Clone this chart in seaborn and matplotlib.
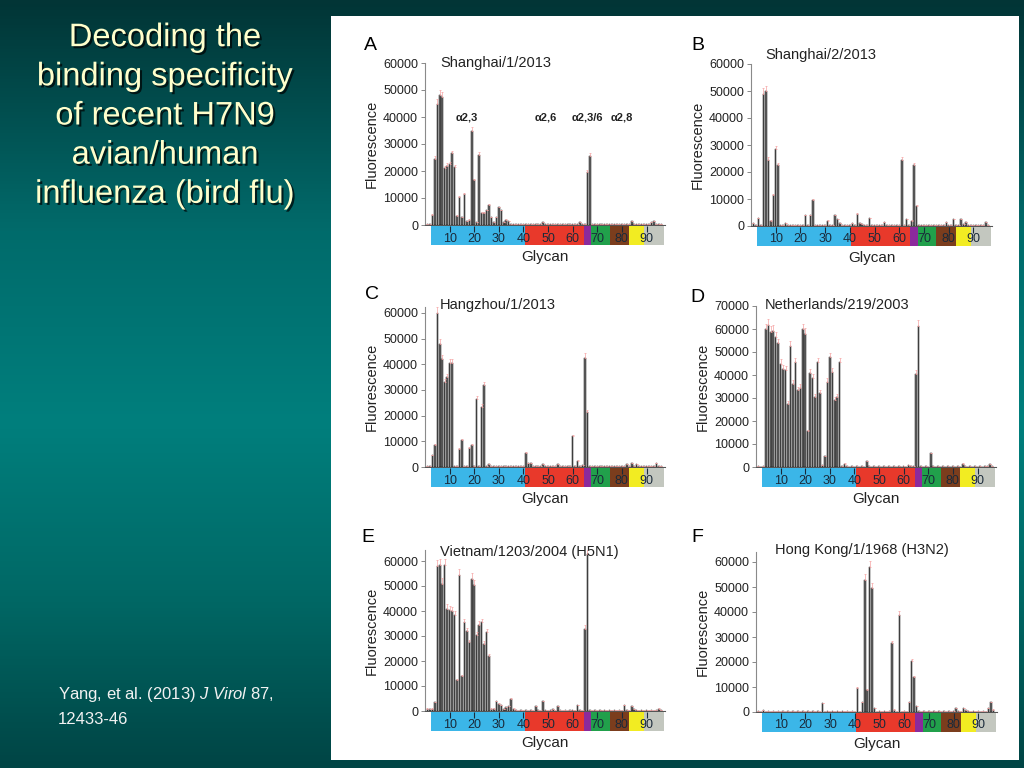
import numpy as np
import pandas as pd
import matplotlib
matplotlib.use('Agg')
import matplotlib.pyplot as plt
import matplotlib.patheffects as pe
from matplotlib.colors import LinearSegmentedColormap
from matplotlib.patches import Rectangle
import seaborn as sns

# slide size in pixels
W, H = 1024, 768

# ---- data ----
GLYCAN = np.arange(1, 97)

SHANGHAI_1 = [300, 200, 3800, 24500, 45000, 48000, 47500, 21000, 22000, 22500, 26500, 21500,
              3500, 10500, 3000, 11500, 1500, 2000, 35000, 16500, 1000, 26000, 4500, 4500,
              5500, 7500, 3000, 1000, 3000, 6500, 5500, 1000, 2000, 1500, 400, 200,
              300, 200, 300, 200, 300, 200, 300, 200, 300, 200, 300, 1000,
              200, 300, 200, 300, 200, 300, 200, 300, 200, 300, 200, 300,
              200, 300, 1200, 300, 200, 19500, 25500, 300, 200, 300, 200, 300,
              200, 300, 200, 300, 200, 300, 200, 300, 200, 300, 200, 1300,
              300, 200, 300, 200, 300, 200, 300, 1000, 1500, 300, 200, 300]

SHANGHAI_2 = [1000, 500, 3000, 300, 49000, 50000, 24500, 2000, 11500, 28500, 22500, 300,
              200, 1000, 300, 200, 300, 200, 300, 200, 300, 4000, 300, 4000,
              9500, 300, 200, 300, 200, 300, 2000, 300, 500, 4000, 2500, 1200,
              300, 200, 300, 200, 1200, 300, 4500, 1200, 800, 500, 300, 3000,
              200, 300, 200, 300, 200, 1500, 200, 300, 200, 300, 200, 300,
              24500, 300, 2500, 300, 2000, 22500, 7500, 300, 200, 300, 200, 300,
              200, 300, 200, 300, 200, 300, 1500, 300, 300, 2500, 300, 500,
              2500, 800, 1500, 300, 200, 300, 200, 300, 200, 300, 1500, 300]

HANGZHOU_1 = [300, 200, 4500, 8500, 60000, 48000, 42000, 33000, 35000, 40500, 40500, 300,
              200, 7000, 10500, 300, 200, 7500, 8500, 300, 26500, 300, 23500, 32000,
              300, 1000, 200, 300, 200, 300, 200, 300, 500, 300, 200, 300,
              200, 300, 200, 300, 5500, 1500, 1500, 300, 200, 300, 200, 1000,
              200, 300, 200, 300, 200, 1000, 200, 300, 200, 300, 200, 12000,
              300, 2500, 300, 800, 42500, 21500, 300, 200, 300, 200, 300, 200,
              300, 200, 300, 200, 300, 200, 300, 200, 300, 1000, 300, 1500,
              300, 1000, 300, 200, 300, 200, 300, 200, 300, 1500, 300, 200]

NETHERLANDS_219 = [300, 200, 300, 59800, 61700, 58800, 59200, 56600, 53700, 45000, 42800, 42300,
                   27500, 52500, 36200, 45700, 33300, 34500, 59800, 58000, 15500, 41000, 38800, 30400,
                   45700, 32200, 1000, 4600, 37000, 47800, 41300, 29300, 30400, 45700, 300, 1500,
                   300, 200, 300, 200, 300, 200, 300, 200, 2500, 300, 200, 300,
                   200, 300, 200, 300, 200, 300, 200, 300, 200, 300, 200, 300,
                   200, 800, 300, 300, 40500, 61500, 300, 200, 300, 200, 6000, 300,
                   200, 300, 200, 300, 200, 300, 200, 300, 200, 300, 200, 1500,
                   300, 200, 300, 200, 300, 200, 300, 200, 300, 300, 1200, 300]

VIETNAM_1203 = [1000, 800, 1000, 3500, 58000, 58500, 51000, 58500, 41000, 40500, 40000, 38500,
                12500, 54500, 14000, 35500, 32000, 27500, 53000, 50500, 30500, 34500, 35500, 27000,
                31500, 22000, 1000, 1000, 4000, 3000, 2500, 800, 1500, 2000, 5000, 1000,
                300, 200, 300, 200, 300, 200, 300, 200, 2000, 300, 200, 4000,
                300, 200, 300, 800, 200, 2000, 300, 200, 300, 200, 500, 300,
                200, 2500, 300, 200, 33000, 63000, 300, 200, 300, 200, 300, 200,
                300, 200, 300, 200, 300, 200, 300, 200, 2500, 300, 200, 2000,
                800, 300, 200, 300, 200, 300, 200, 300, 200, 300, 1000, 300]

HONGKONG_1968 = [300, 200, 800, 200, 300, 200, 300, 200, 300, 200, 300, 200,
                 300, 200, 300, 200, 300, 200, 300, 200, 300, 200, 300, 200,
                 300, 200, 3500, 200, 300, 200, 300, 200, 300, 200, 300, 200,
                 300, 200, 300, 200, 9500, 200, 4000, 53000, 9000, 58000, 49500, 1500,
                 200, 300, 200, 300, 200, 300, 27500, 1000, 200, 39000, 200, 300,
                 200, 4000, 20500, 14000, 2500, 300, 200, 300, 200, 300, 200, 300,
                 200, 300, 200, 300, 200, 300, 200, 300, 1500, 300, 200, 1500,
                 800, 300, 200, 300, 200, 300, 200, 300, 200, 1500, 4000, 1000]

SERIES = [SHANGHAI_1, SHANGHAI_2, HANGZHOU_1, NETHERLANDS_219, VIETNAM_1203, HONGKONG_1968]
STRAINS = ['Shanghai/1/2013', 'Shanghai/2/2013', 'Hangzhou/1/2013',
           'Netherlands/219/2003', 'Vietnam/1203/2004 (H5N1)', 'Hong Kong/1/1968 (H3N2)']
LETTERS = ['A', 'B', 'C', 'D', 'E', 'F']
Y_TICKS = [list(range(0, 60001, 10000))] * 3 + [list(range(0, 70001, 10000))] + \
          [list(range(0, 60001, 10000))] * 2
X_TICKS = [10, 20, 30, 40, 50, 60, 70, 80, 90]
ERR_FRAC = 0.04   # relative size of the pink error caps

# glycan class colour strip
STRIP_STARTS = [2.5, 40.5, 64.5, 67.5, 75, 83, 89]
STRIP_ENDS = [40.5, 64.5, 67.5, 75, 83, 89, 97]
STRIP_COLORS = ['#3bb6e8', '#e8392b', '#8c2a9c', '#21a04b', '#7b3d1d', '#f2ec22', '#c3c7bf']

ALPHA_LABELS = ['α2,3', 'α2,6', 'α2,3/6', 'α2,8']
ALPHA_X = [17, 49, 66, 80]
ALPHA_Y = 40000

# ---- layout (pixels): left, right, baseline y, top y, ylim top ----
PANEL_BOX = [(425, 665, 225, 63, 60000),
             (751, 992, 226, 64, 60000),
             (425, 665, 467, 307, 62300),
             (756, 996, 467, 306, 70000),
             (425, 665, 711, 550, 64400),
             (756, 997, 712, 552, 64000)]
TITLE_POS = [(440, 63), (765, 55), (440, 305), (765, 305), (529, 552), (862, 550)]
TITLE_HA = ['left', 'left', 'left', 'left', 'center', 'center']
LETTER_POS = [(370, 45), (698, 45), (372, 295), (697, 297), (368, 537), (697, 538)]


def px_rect(l, r, ybot, ytop):
    return [l / W, 1 - ybot / H, (r - l) / W, (ybot - ytop) / H]


def fx(x):
    return x / W


def fy(y):
    return 1 - y / H


sns.set_style('white')
plt.rcParams['font.family'] = ['Liberation Sans', 'DejaVu Sans']
plt.rcParams['mathtext.fontset'] = 'custom'
plt.rcParams['mathtext.rm'] = 'Liberation Sans'
plt.rcParams['mathtext.it'] = 'Liberation Sans:italic'

fig = plt.figure(figsize=(W / 100, H / 100), dpi=100)

# slide background gradient
bg = fig.add_axes([0, 0, 1, 1], zorder=-2)
cmap = LinearSegmentedColormap.from_list(
    'slide', [(0.0, '#023536'), (0.3, '#016b6b'), (0.55, '#007f7d'), (0.78, '#006865'), (1.0, '#004545')])
bg.imshow(np.linspace(0, 1, 256).reshape(-1, 1), cmap=cmap, aspect='auto', extent=[0, 1, 0, 1])
bg.set_axis_off()

# white figure panel
fig.add_artist(Rectangle((fx(331), fy(760)), (1019 - 331) / W, (760 - 16) / H,
                         transform=fig.transFigure, facecolor='white', edgecolor='none', zorder=-1))

for i in range(6):
    l, r, y0, yt, ymax = PANEL_BOX[i]
    ax = fig.add_axes(px_rect(l, r, y0, yt))
    ax.set_facecolor('none')
    vals = np.array(SERIES[i])
    df = pd.DataFrame({'glycan': GLYCAN, 'rfu': vals})
    sns.barplot(data=df, x='glycan', y='rfu', native_scale=True, color='#6a6a6a', saturation=1,
                edgecolor='#111111', linewidth=0.35, width=0.6, errorbar=None, ax=ax)
    ax.errorbar(GLYCAN, vals, yerr=[np.zeros(len(vals)), vals * ERR_FRAC], fmt='none',
                ecolor='#f5a3a3', elinewidth=0.5, capsize=0.8, capthick=0.5)
    ax.set_xlim(0, 97.5)
    ax.set_ylim(0, ymax)
    ax.set_xlabel('')
    ax.set_xticks([])
    ax.set_xticks(GLYCAN, minor=True)
    ax.tick_params(axis='x', which='minor', length=1.5, width=0.5, color='#444444', direction='out')
    ax.set_yticks(Y_TICKS[i])
    ax.set_yticklabels([str(t) for t in Y_TICKS[i]], fontsize=9, color='#222222')
    ax.tick_params(axis='y', length=3, width=0.7, color='#888888', pad=2, left=True)
    ax.set_ylabel('Fluorescence', fontsize=10.5, labelpad=3, color='#222222')
    for s in ['top', 'right']:
        ax.spines[s].set_visible(False)
    ax.spines['left'].set_color('#8a8a8a')
    ax.spines['left'].set_linewidth(0.8)
    ax.spines['bottom'].set_color('#555555')
    ax.spines['bottom'].set_linewidth(0.8)

    if i == 0:
        for lab, gx in zip(ALPHA_LABELS, ALPHA_X):
            ax.text(gx, ALPHA_Y, lab, ha='center', va='center', fontsize=8, fontweight='bold',
                    color='#222222')

    # colour strip under the axis
    sx = fig.add_axes(px_rect(l, r, y0 + 20, y0 + 1))
    sx.set_axisbelow(False)
    sx.barh(y=0.5, width=np.subtract(STRIP_ENDS, STRIP_STARTS), left=STRIP_STARTS, height=1,
            color=STRIP_COLORS, edgecolor='none')
    sx.set_xlim(0, 97.5)
    sx.set_ylim(0, 1)
    sx.set_yticks([])
    sx.set_xticks(X_TICKS)
    sx.set_xticklabels([str(t) for t in X_TICKS])
    sx.tick_params(axis='x', top=True, bottom=False, labelbottom=True, labeltop=False,
                   direction='in', length=4, width=0.8, color='#1a2a3a', pad=-9,
                   labelsize=9, labelcolor='#1a2a3a')
    for s in sx.spines.values():
        s.set_visible(False)

    fig.text(fx((l + r) / 2), fy(y0 + 32), 'Glycan', ha='center', va='center',
             fontsize=11, color='#222222')
    tx, ty = TITLE_POS[i]
    fig.text(fx(tx), fy(ty), STRAINS[i], ha=TITLE_HA[i], va='center', fontsize=10.5, color='#222222')
    lx, ly = LETTER_POS[i]
    fig.text(fx(lx), fy(ly), LETTERS[i], ha='center', va='center', fontsize=14, color='black')

# slide title and citation
fig.text(fx(165), fy(116), 'Decoding the\nbinding specificity\nof recent H7N9\navian/human\ninfluenza (bird flu)',
         ha='center', va='center', multialignment='center', fontsize=23.5, color='#ffffcc',
         linespacing=1.34,
         path_effects=[pe.withSimplePatchShadow(offset=(1.5, -1.5), shadow_rgbFace='black', alpha=0.7)])
fig.text(fx(58), fy(695), r'Yang, et al. (2013) $\mathit{J\ Virol}$ 87,', ha='left', va='center',
         fontsize=12, color='#f2f2f2')
fig.text(fx(58), fy(720), '12433-46', ha='left', va='center', fontsize=12, color='#f2f2f2')

fig.savefig('out.png', dpi=100)
